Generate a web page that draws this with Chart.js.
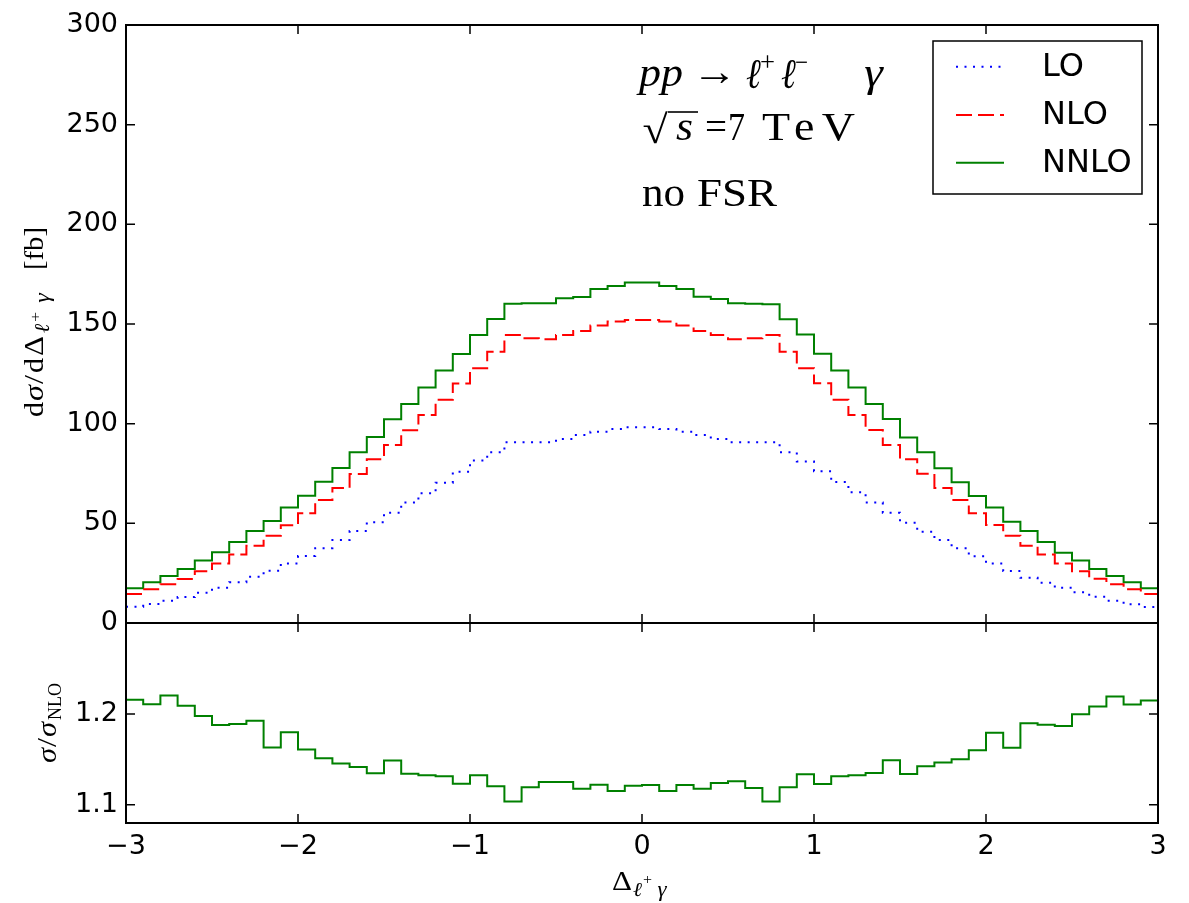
<!DOCTYPE html>
<html><head><meta charset="utf-8">
<script src="https://cdn.jsdelivr.net/npm/chart.js@4.4.1/dist/chart.umd.min.js"></script>
<style>
html,body{margin:0;padding:0;background:#fff;}
#wrap{position:relative;width:1189px;height:903px;}
canvas{position:absolute;left:0;top:0;}
</style></head><body>
<div id="wrap"><canvas id="c1" width="1189" height="903"></canvas><canvas id="c2" width="1189" height="903"></canvas></div>
<script>
// ---- data ----
const binEdges = [-3.0,-2.9,-2.8,-2.7,-2.6,-2.5,-2.4,-2.3,-2.2,-2.1,-2.0,-1.9,-1.8,-1.7,-1.6,-1.5,-1.4,-1.3,-1.2,-1.1,-1.0,-0.9,-0.8,-0.7,-0.6,-0.5,-0.4,-0.3,-0.2,-0.1,0.0,0.1,0.2,0.3,0.4,0.5,0.6,0.7,0.8,0.9,1.0,1.1,1.2,1.3,1.4,1.5,1.6,1.7,1.8,1.9,2.0,2.1,2.2,2.3,2.4,2.5,2.6,2.7,2.8,2.9,3.0];
const loValues = [8.2,9.5,11.2,13.0,15.2,17.7,20.4,23.2,26.2,29.8,33.6,37.5,41.6,46.2,50.5,55.3,60.4,65.1,70.4,75.9,81.5,85.6,90.7,90.7,90.7,92.3,94.3,96.0,97.3,98.2,98.2,97.3,96.0,94.3,92.3,90.7,90.7,90.7,85.6,81.0,76.1,70.7,65.6,60.4,55.3,50.3,45.8,41.6,37.5,33.5,29.8,26.1,22.7,20.2,17.7,15.4,13.2,11.2,9.4,8.0];
const nloValues = [14.5,16.9,19.4,22.1,25.9,29.9,34.4,38.8,43.8,49.0,55.0,61.7,67.7,74.8,82.1,89.3,96.7,104.4,112.0,120.2,127.8,136.1,144.5,142.8,142.3,144.5,146.5,149.2,151.2,152.0,152.0,151.2,149.2,146.5,144.5,142.3,142.8,144.5,136.1,127.8,120.3,112.0,104.4,96.8,89.3,82.1,74.9,67.7,61.7,55.0,49.2,43.8,38.8,34.4,29.8,25.9,22.2,19.4,16.9,14.5];
const nnloValues = [17.4,20.4,23.6,27.1,31.3,35.5,40.6,46.2,51.2,58.0,63.9,70.9,77.8,85.6,93.3,102.2,109.9,118.2,126.7,135.0,144.5,152.5,160.1,160.4,160.4,162.9,163.6,167.6,169.1,170.8,170.8,169.1,167.6,163.7,162.6,160.4,160.1,159.9,152.4,144.7,135.1,126.7,118.2,109.9,102.4,93.0,85.6,77.6,70.6,63.7,57.9,50.8,46.2,40.6,35.3,31.3,27.1,23.6,20.4,17.4];
const ratioValues = [1.2155,1.2107,1.2203,1.2089,1.1978,1.1878,1.1889,1.1926,1.1631,1.1797,1.1609,1.1513,1.1454,1.1417,1.1347,1.1487,1.1343,1.1325,1.1313,1.1232,1.1325,1.1203,1.1037,1.1192,1.1251,1.1251,1.1177,1.1221,1.1151,1.1210,1.1218,1.1151,1.1218,1.1177,1.1240,1.1258,1.1184,1.1037,1.1192,1.1336,1.1228,1.1313,1.1325,1.1350,1.1491,1.1339,1.1424,1.1465,1.1502,1.1601,1.1793,1.1627,1.1897,1.1882,1.1867,1.1997,1.2081,1.2192,1.2103,1.2147];
const seriesLabels = ['LO','NLO','NNLO'];
const xTicks = [-3,-2,-1,0,1,2,3];
const mainYTicks = [0,50,100,150,200,250,300];
const ratioYTicks = [1.1,1.2];

// ---- styles ----
const colors = {LO:'#0000ff', NLO:'#ff0000', NNLO:'#008000'};
const dashes = {LO:[2,6.5], NLO:[16,6], NNLO:[]};
const tickFont = {family:'DejaVu Sans', size:27};
const SERIF = '"Liberation Serif","DejaVu Serif",serif';
const rm = s => s+'px '+SERIF;
const it = s => 'italic '+s+'px '+SERIF;

function toPoints(vals){
  const pts = vals.map((v,i)=>({x:binEdges[i], y:v}));
  pts.push({x:binEdges[binEdges.length-1], y:vals[vals.length-1]});
  return pts;
}
function fmtX(v){ return v<0 ? '\u2212'+Math.abs(v) : String(v); }

function drawFrame(chart, yId, yTickVals){
  const {ctx, chartArea:a} = chart;
  const xs = chart.scales.x, ys = chart.scales[yId];
  ctx.save();
  ctx.strokeStyle='#000'; ctx.lineWidth=1.5;
  ctx.beginPath();
  xTicks.forEach(v=>{
    const px = xs.getPixelForValue(v);
    ctx.moveTo(px,a.bottom); ctx.lineTo(px,a.bottom-9);
    ctx.moveTo(px,a.top); ctx.lineTo(px,a.top+9);
  });
  yTickVals.forEach(v=>{
    const py = ys.getPixelForValue(v);
    ctx.moveTo(a.left,py); ctx.lineTo(a.left+9,py);
    ctx.moveTo(a.right,py); ctx.lineTo(a.right-9,py);
  });
  ctx.stroke();
  ctx.lineWidth=2;
  ctx.strokeRect(a.left,a.top,a.right-a.left,a.bottom-a.top);
  ctx.restore();
}

// place text t spanning roughly [x, x+w]: mild horizontal scaling, then letter spacing for the rest
function put(ctx, t, font, x, y, w){
  ctx.font = font;
  const m = ctx.measureText(t).width;
  if (w === undefined){ ctx.fillText(t,x,y); return; }
  const n = Array.from(t).length;
  const s = Math.min(Math.max(w/m,0.85),1.15);
  ctx.save(); ctx.translate(x,y); ctx.scale(s,1);
  const rest = w - m*s;
  if (n > 1 && ('letterSpacing' in ctx) && rest > 0){
    ctx.letterSpacing = (rest/s/(n-1)).toFixed(2)+'px';
    ctx.fillText(t,0,0);
    ctx.letterSpacing = '0px';
  } else {
    ctx.fillText(t, n>1 ? 0 : Math.max(rest,0)/2/s, 0);
  }
  ctx.restore();
}

const mainDecor = {
  id:'mainDecor',
  afterDraw(chart){
    const ctx = chart.ctx;
    drawFrame(chart,'y',mainYTicks);
    ctx.save();
    ctx.fillStyle='#000'; ctx.textBaseline='alphabetic'; ctx.textAlign='left';
    // annotation, line 1
    put(ctx,'pp',it(41),639,86,44);
    put(ctx,'\u2192',rm(40),692,85,45);
    put(ctx,'\u2113',it(42),746,88,13);
    put(ctx,'+',rm(27),760,71,15);
    put(ctx,'\u2113',it(42),781,88,13);
    put(ctx,'\u2212',rm(27),795,71,13);
    put(ctx,'\u03b3',it(41),862,86,23);
    // line 2
    put(ctx,'\u221a',rm(40),639,143,32);
    ctx.strokeStyle='#000'; ctx.lineWidth=1.6;
    ctx.beginPath(); ctx.moveTo(668,112); ctx.lineTo(698,112); ctx.stroke();
    put(ctx,'s',it(41),676,140,17);
    put(ctx,'=',rm(40),705,140,22);
    put(ctx,'7',rm(40),728,140,16);
    put(ctx,'TeV',rm(40),762,140,93);
    // line 3
    put(ctx,'no',rm(40),642,206,43);
    put(ctx,'FSR',rm(40),697,206,80);
    // legend
    ctx.fillStyle='#fff'; ctx.fillRect(933,41,209,153);
    ctx.strokeStyle='#000'; ctx.lineWidth=1.5; ctx.strokeRect(933,41,209,153);
    const ly = [66.7,115,162.7];
    chart.data.datasets.forEach((ds,i)=>{
      ctx.save(); ctx.strokeStyle=ds.borderColor; ctx.lineWidth=2; ctx.setLineDash(ds.borderDash||[]);
      ctx.beginPath(); ctx.moveTo(956,ly[i]); ctx.lineTo(1004,ly[i]); ctx.stroke(); ctx.restore();
      ctx.fillStyle='#000'; ctx.font='32px "DejaVu Sans"'; ctx.textBaseline='middle';
      ctx.fillText(ds.label,1042,ly[i]+1);
    });
    // y title (rotated): local x runs upward from screen y=417
    ctx.textBaseline='alphabetic';
    ctx.save(); ctx.translate(43,417); ctx.rotate(-Math.PI/2);
    put(ctx,'d',rm(28),0,0,15);
    put(ctx,'\u03c3',it(28),16,0,16);
    put(ctx,'/',rm(28),33,0,9);
    put(ctx,'d',rm(28),44,0,15);
    put(ctx,'\u0394',rm(28),61,0,20);
    put(ctx,'\u2113',it(21),84,6,9);
    put(ctx,'+',rm(15),95,-3,10);
    put(ctx,'\u03b3',it(21),112,6,14);
    put(ctx,'[fb]',rm(28),147,0,43);
    ctx.restore();
    ctx.restore();
  }
};

const ratioDecor = {
  id:'ratioDecor',
  afterDraw(chart){
    const ctx = chart.ctx;
    drawFrame(chart,'y',ratioYTicks);
    ctx.save(); ctx.fillStyle='#000'; ctx.textBaseline='alphabetic'; ctx.textAlign='left';
    // ratio y title
    ctx.save(); ctx.translate(56,763); ctx.rotate(-Math.PI/2);
    put(ctx,'\u03c3',it(28),0,0,15);
    put(ctx,'/',rm(28),16,0,9);
    put(ctx,'\u03c3',it(28),26,0,15);
    put(ctx,'NLO',rm(18),43,5);
    ctx.restore();
    // x title
    put(ctx,'\u0394',rm(28),612,890,20);
    put(ctx,'\u2113',it(20),633,896,9);
    put(ctx,'+',rm(14),643,884,9);
    put(ctx,'\u03b3',it(20),656,896,12);
    ctx.restore();
  }
};

const common = {responsive:false, animation:false, devicePixelRatio:1, events:[],
  plugins:{legend:{display:false}, tooltip:{enabled:false}}};

function lineDs(name, vals){
  return {label:name, data:toPoints(vals), borderColor:colors[name], borderWidth:2,
    borderDash:dashes[name], stepped:true, pointRadius:0, fill:false, tension:0};
}

new Chart(document.getElementById('c1'), {
  type:'line',
  data:{datasets:[lineDs(seriesLabels[0],loValues), lineDs(seriesLabels[1],nloValues), lineDs(seriesLabels[2],nnloValues)]},
  options:{...common,
    layout:{padding:{left:0,top:25,right:31,bottom:280}},
    scales:{
      x:{type:'linear', display:false, min:-3, max:3},
      y:{type:'linear', min:0, max:300,
        afterBuildTicks:s=>{s.ticks = mainYTicks.map(v=>({value:v}));},
        ticks:{font:tickFont, color:'#000', padding:8, callback:v=>String(v)},
        grid:{display:false, drawTicks:false}, border:{display:false},
        afterFit:s=>{s.width=126; s.paddingTop=0; s.paddingBottom=0;}}
    }},
  plugins:[mainDecor]
});

new Chart(document.getElementById('c2'), {
  type:'line',
  data:{datasets:[{label:'NNLO/NLO', data:toPoints(ratioValues), borderColor:colors.NNLO, borderWidth:2,
    stepped:true, pointRadius:0, fill:false, tension:0}]},
  options:{...common,
    layout:{padding:{left:0,top:623,right:31,bottom:0}},
    scales:{
      x:{type:'linear', min:-3, max:3,
        afterBuildTicks:s=>{s.ticks = xTicks.map(v=>({value:v}));},
        ticks:{font:tickFont, color:'#000', padding:8, maxRotation:0, autoSkip:false, callback:v=>fmtX(v)},
        grid:{display:false, drawTicks:false}, border:{display:false},
        afterFit:s=>{s.height=80; s.paddingLeft=0; s.paddingRight=0;}},
      y:{type:'linear', min:1.08, max:1.30,
        afterBuildTicks:s=>{s.ticks = ratioYTicks.map(v=>({value:v}));},
        ticks:{font:tickFont, color:'#000', padding:8, callback:v=>v.toFixed(1)},
        grid:{display:false, drawTicks:false}, border:{display:false},
        afterFit:s=>{s.width=126; s.paddingTop=0; s.paddingBottom=0;}}
    }},
  plugins:[ratioDecor]
});
</script>
</body></html>
